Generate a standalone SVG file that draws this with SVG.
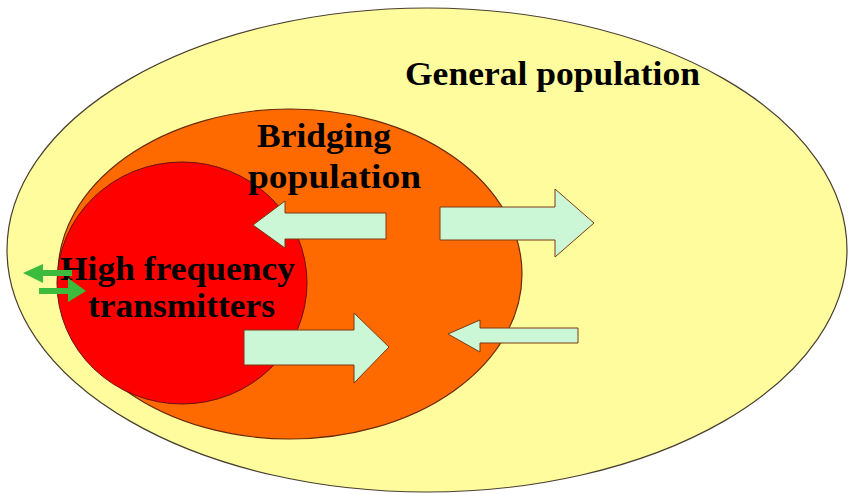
<svg xmlns="http://www.w3.org/2000/svg" width="849" height="494" viewBox="0 0 849 494">
  <style>
    .label { font-family: "Liberation Serif", "Times New Roman", serif; font-weight: bold; font-size: 34px; fill: #000; }
    .flow { fill: #CCF7D6; stroke: #7A3A14; stroke-width: 1; stroke-linejoin: miter; }
    .swap { fill: #3CBB3C; stroke: none; }
  </style>
  <rect width="849" height="494" fill="#ffffff"/>

  <g id="general-population">
    <ellipse cx="427" cy="250" rx="420" ry="242" fill="#FFFC9E" stroke="#4a4030" stroke-width="1.2"/>
    <text class="label" x="405" y="85" textLength="295" lengthAdjust="spacingAndGlyphs">General population</text>
  </g>

  <g id="bridging-population">
    <ellipse cx="290" cy="274" rx="232" ry="165" fill="#FF6A00" stroke="#6a2a08" stroke-width="1.2"/>
    <!-- the core group sits inside, so the bridging label stays on top of it -->
    <g id="high-frequency-transmitters">
      <ellipse cx="182" cy="283" rx="125" ry="121" fill="#FF0000" stroke="#6a1010" stroke-width="1"/>
      <text class="label" x="60" y="280" textLength="235" lengthAdjust="spacingAndGlyphs">High frequency</text>
      <text class="label" x="88" y="317" textLength="187" lengthAdjust="spacingAndGlyphs">transmitters</text>
    </g>
    <text class="label" x="257" y="147" textLength="134" lengthAdjust="spacingAndGlyphs">Bridging</text>
    <text class="label" x="248" y="188" textLength="173" lengthAdjust="spacingAndGlyphs">population</text>
  </g>

  <g id="connectors">
    <!-- bridging -> core -->
    <polygon class="flow" points="386,213 285,213 285,201 253,225 285,248 285,239 386,239"/>
    <!-- bridging -> general -->
    <polygon class="flow" points="440,207 555,207 555,189 594,223 555,257 555,240 440,240"/>
    <!-- core -> bridging -->
    <polygon class="flow" points="244,330 354,330 354,313 389,347 354,383 354,365 244,365"/>
    <!-- general -> bridging -->
    <polygon class="flow" points="578,328 480,328 480,320 448,334 480,352 480,343 578,343"/>
    <!-- exchange across the core boundary -->
    <polygon class="swap" points="72,270 43,270 43,264 23,273 43,283 43,276 72,276"/>
    <polygon class="swap" points="39,288 68,288 68,278 86,291 68,302 68,294 39,294"/>
  </g>
</svg>
